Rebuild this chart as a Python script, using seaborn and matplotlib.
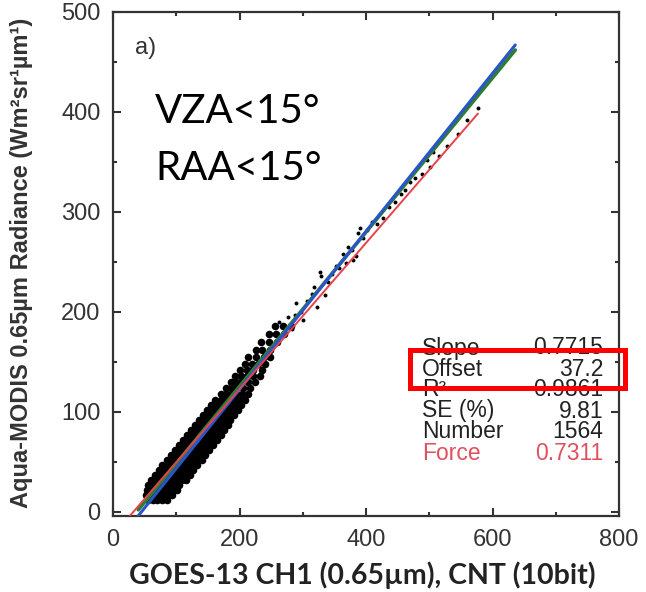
import numpy as np
import pandas as pd
import matplotlib
matplotlib.use("Agg")
import matplotlib.pyplot as plt
import seaborn as sns
from matplotlib.patches import Rectangle
from matplotlib.ticker import MultipleLocator

# ---------------- data ----------------
# dense core of the scatter cloud: rows of constant radiance with counts along them
core_rows_y = [12, 17, 22, 27, 32, 37, 42, 47, 52, 57, 62, 67, 72, 77, 82, 87,
               92, 97, 102, 107, 112, 118, 124, 130, 136, 142, 148, 155, 162, 170, 178, 186]
core_rows_x = [
    [56, 63, 70, 78, 86],
    [52, 59, 66, 73, 80, 87, 94],
    [53, 60, 67, 74, 81, 88, 95, 101],
    [56, 63, 70, 77, 84, 91, 98, 105],
    [60, 67, 74, 81, 88, 95, 102, 109, 115],
    [66, 73, 80, 87, 94, 101, 108, 115, 121],
    [72, 79, 86, 93, 100, 107, 114, 121, 127],
    [78, 85, 92, 99, 106, 113, 120, 127, 133],
    [85, 92, 99, 106, 113, 120, 127, 134, 140],
    [91, 98, 105, 112, 119, 126, 133, 140, 146],
    [98, 105, 112, 119, 126, 133, 140, 147, 152],
    [104, 111, 118, 125, 132, 139, 146, 153, 158],
    [110, 117, 124, 131, 138, 145, 152, 159, 164],
    [117, 124, 131, 138, 145, 152, 159, 166, 170],
    [123, 130, 137, 144, 151, 158, 165, 172, 176],
    [129, 136, 143, 150, 157, 164, 171, 178, 182],
    [136, 143, 150, 157, 164, 171, 178, 185],
    [142, 149, 156, 163, 170, 177, 184, 191],
    [149, 156, 163, 170, 177, 184, 191, 197],
    [155, 162, 169, 176, 183, 190, 197, 203],
    [162, 170, 177, 184, 192, 199, 208],
    [170, 178, 186, 194, 204, 214],
    [178, 186, 195, 205, 216],
    [186, 195, 203, 214, 224],
    [193, 203, 212, 222, 232],
    [200, 212, 222, 235],
    [208, 220, 230, 240],
    [214, 226, 238, 248],
    [226, 236, 248],
    [234, 246, 260],
    [246, 258, 270],
    [256, 268, 282],
]

# sparse outer points
outer_x = [262, 270, 276, 283, 288, 290, 297, 300, 306, 314, 317, 322, 327, 329, 335,
           340, 346, 352, 358, 363, 369, 372, 378, 380, 384, 388, 391, 396, 402, 410,
           418, 427, 436, 446, 455, 462, 470, 478, 488, 496, 501, 506, 515, 528, 545,
           560, 577]
outer_y = [190, 187, 195, 183, 197, 209, 200, 192, 211, 218, 225, 205, 240, 236, 217,
           230, 238, 246, 244, 258, 249, 265, 262, 252, 256, 279, 284, 274, 282, 290,
           288, 294, 305, 310, 318, 322, 330, 334, 338, 352, 345, 360, 356, 366, 378,
           392, 404]

# regression lines
fit_names = ["green", "blue", "red"]
fit_slopes = [0.7715, 0.790, 0.7311]
fit_intercepts = [-28.7, -35.4, -23.4]
fit_x_start = [40, 40, 27]
fit_x_end = [636, 636, 577]
fit_colors = ["#2e7d32", "#2a55c8", "#e8424c"]
fit_widths = [2.6, 2.2, 1.4]

# stats box
stat_labels = ["Slope", "Offset", "R\u00b2", "SE (%)", "Number", "Force"]
stat_values = ["0.7715", "37.2", "0.9861", "9.81", "1564", "0.7311"]

x_ticks = [0, 200, 400, 600, 800]
y_ticks = [0, 100, 200, 300, 400, 500]

# ---------------- figure ----------------
sns.set_theme(style="white")
plt.rcParams["font.family"] = ["Liberation Sans", "DejaVu Sans"]

W, H = 646, 592
fig = plt.figure(figsize=(W / 100, H / 100), dpi=100)
ax = fig.add_axes([113 / W, 1 - 516 / H, (619 - 113) / W, (516 - 12) / H])

core_x, core_y = [], []
for yv, xs in zip(core_rows_y, core_rows_x):
    for xv in xs:
        core_x.append(xv)
        core_y.append(yv)
df_core = pd.DataFrame({"x": core_x, "y": core_y})
df_outer = pd.DataFrame({"x": outer_x, "y": outer_y})

sns.scatterplot(data=df_core, x="x", y="y", ax=ax, color="black", s=30,
                linewidth=0, zorder=2)
sns.scatterplot(data=df_outer, x="x", y="y", ax=ax, color="black", s=8,
                linewidth=0, zorder=2)

for name, sl, ic, x0, x1, c, lw in zip(fit_names, fit_slopes, fit_intercepts,
                                       fit_x_start, fit_x_end, fit_colors, fit_widths):
    xx = np.array([x0, x1], dtype=float)
    dfl = pd.DataFrame({"x": xx, "y": sl * xx + ic})
    sns.lineplot(data=dfl, x="x", y="y", ax=ax, color=c, linewidth=lw, zorder=3)

ax.set_xlim(0, 800)
ax.set_ylim(-4, 500)
ax.set_xticks(x_ticks)
ax.set_yticks(y_ticks)
ax.xaxis.set_minor_locator(MultipleLocator(100))
ax.yaxis.set_minor_locator(MultipleLocator(50))
ax.tick_params(which="both", direction="in", top=True, right=True, bottom=True, left=True,
               color="#333333", width=1.5)
ax.tick_params(which="major", length=6, labelsize=17, labelcolor="#333333", pad=9)
ax.tick_params(which="minor", length=3)
for sp in ax.spines.values():
    sp.set_color("#333333")
    sp.set_linewidth(1.6)
ax.set_xlabel("")
ax.set_ylabel("")

fig.text(362 / W, 1 - 575 / H, "GOES-13 CH1 (0.65\u00b5m), CNT (10bit)",
         family=["Lato", "DejaVu Sans"], fontweight="bold", fontsize=20.5,
         color="#222222", ha="center", va="center")
fig.text(22 / W, 1 - 263 / H, "Aqua-MODIS 0.65\u00b5m Radiance (Wm\u00b2sr\u00b9\u00b5m\u00b9)",
         family=["Liberation Sans", "DejaVu Sans"], fontweight="bold", fontsize=17,
         color="#333333", rotation=90, ha="center", va="center")

fig.text(135 / W, 1 - 48 / H, "a)", fontsize=17, color="#333333", ha="left", va="center")
fig.text(155 / W, 1 - 123 / H, "VZA<15\u00b0", family=["Lato", "DejaVu Sans"],
         fontsize=29, color="black", ha="left", va="baseline")
fig.text(155 / W, 1 - 180 / H, "RAA<15\u00b0", family=["Lato", "DejaVu Sans"],
         fontsize=29, color="black", ha="left", va="baseline")

for i, (lab, val) in enumerate(zip(stat_labels, stat_values)):
    yy = 1 - (348 + 21 * i) / H
    col = "#e0505e" if lab == "Force" else "#222222"
    fig.text(422 / W, yy, lab, fontsize=16.5, color=col, ha="left", va="center")
    fig.text(603 / W, yy, val, fontsize=16.5, color=col, ha="right", va="center")

rect = Rectangle((409.5 / W, 1 - 387.5 / H), (624.5 - 409.5) / W, (387.5 - 349.5) / H,
                 transform=fig.transFigure, fill=False, edgecolor="#ff0000",
                 linewidth=3.6, zorder=10)
fig.patches.append(rect)

fig.savefig("out.png", dpi=100)
